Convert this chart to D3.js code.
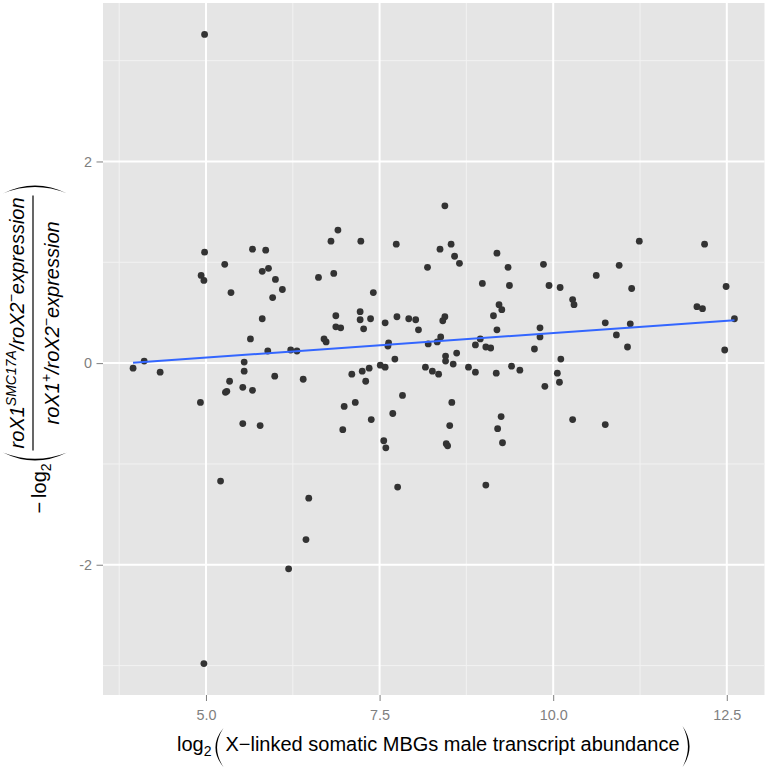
<!DOCTYPE html>
<html><head><meta charset="utf-8">
<script src="https://cdn.jsdelivr.net/npm/d3@7"></script>
<style>body{margin:0;background:#fff}</style>
</head><body>
<svg id="chart" width="768" height="768"></svg>
<script>
// log2 male transcript abundance (x) and -log2 expression ratio (y)
const abundance = [4.98,4.98,5.27,5.67,5.86,4.93,4.97,5.81,5.90,6.00,6.10,5.36,5.96,6.62,5.81,5.64,6.22,6.31,5.89,
  8.44,6.90,6.80,7.23,7.74,8.37,8.53,8.58,8.65,8.19,9.19,9.35,6.84,7.41,8.98,9.37,6.87,7.22,7.22,7.37,7.27,6.87,6.94,
  7.58,7.75,7.92,8.02,8.06,8.44,8.41,8.38,9.22,9.26,9.14,9.19,6.70,6.73,7.63,7.62,8.20,8.33,8.95,8.88,9.03,9.10,
  11.24,12.18,9.86,10.95,10.62,9.94,10.10,11.13,12.49,10.28,10.30,12.07,12.15,12.61,10.75,11.11,9.81,9.81,10.91,9.73,11.07,12.47,
  10.11,9.40,9.52,10.06,10.09,9.88,9.25,9.27,10.28,10.75,
  7.72,7.51,7.58,7.35,7.25,7.10,7.30,8.45,8.45,8.61,8.56,8.16,8.26,8.35,8.78,8.88,9.18,6.40,7.83,7.15,6.99,8.54,9.20,
  7.69,7.38,6.97,8.51,7.56,7.59,8.46,8.48,7.76,9.03,6.48,6.44,
  4.11,3.95,4.34,5.55,5.55,5.34,5.28,5.30,5.53,5.67,5.99,4.92,5.53,5.78,5.21,6.19,4.97];
const logRatio = [3.26,1.10,0.98,1.13,1.12,0.87,0.82,0.91,0.94,0.83,0.73,0.70,0.65,0.85,0.44,0.24,0.13,0.12,0.12,
  1.56,1.32,1.21,1.21,1.18,1.13,1.18,1.06,0.99,0.95,1.09,0.95,0.89,0.70,0.79,0.77,0.47,0.51,0.43,0.44,0.34,0.36,0.35,
  0.40,0.46,0.44,0.43,0.33,0.46,0.42,0.26,0.58,0.53,0.47,0.33,0.24,0.21,0.20,0.17,0.19,0.21,0.24,0.18,0.16,0.15,
  1.21,1.18,0.98,0.97,0.87,0.77,0.75,0.74,0.76,0.63,0.58,0.56,0.54,0.44,0.40,0.39,0.35,0.26,0.28,0.14,0.16,0.13,
  0.04,-0.03,-0.07,-0.10,-0.19,-0.23,-0.53,-0.79,-0.56,-0.61,
  0.04,-0.02,-0.04,-0.05,-0.08,-0.11,-0.18,0.07,0.02,0.10,-0.01,-0.04,-0.08,-0.11,-0.04,-0.09,-0.10,-0.16,-0.32,-0.39,-0.43,-0.39,-0.65,
  -0.50,-0.56,-0.66,-0.62,-0.77,-0.84,-0.80,-0.82,-1.23,-1.21,-1.34,-1.75,
  0.02,-0.05,-0.09,0.01,-0.08,-0.18,-0.29,-0.28,-0.24,-0.27,-0.13,-0.39,-0.60,-0.62,-1.17,-2.04,-2.98];
const xTicks = [5, 7.5, 10, 12.5];
const xTickLabels = ["5.0", "7.5", "10.0", "12.5"];
const xMinor = [3.75, 6.25, 8.75, 11.25];
const yTicks = [-2, 0, 2];
const yTickLabels = ["-2", "0", "2"];
const yMinor = [-3, -1, 1, 3];

const FONT = "'Liberation Sans', Arial, Helvetica, sans-serif";
const svg = d3.select("#chart").style("font-family", FONT);
const P = {left: 103, right: 764.5, top: 3, bottom: 695};

const xe = d3.extent(abundance), ye = d3.extent(logRatio);
const xp = (xe[1] - xe[0]) * 0.05, yp = (ye[1] - ye[0]) * 0.05;
const x = d3.scaleLinear().domain([xe[0] - xp, xe[1] + xp]).range([P.left, P.right]);
const y = d3.scaleLinear().domain([ye[0] - yp, ye[1] + yp]).range([P.bottom, P.top]);

// panel
svg.append("rect").attr("x", P.left).attr("y", P.top)
  .attr("width", P.right - P.left).attr("height", P.bottom - P.top).attr("fill", "#E5E5E5");
const grid = svg.append("g");
grid.selectAll(".vmin").data(xMinor).join("line")
  .attr("x1", d => x(d)).attr("x2", d => x(d)).attr("y1", P.top).attr("y2", P.bottom)
  .attr("stroke", "#F2F2F2").attr("stroke-width", 1);
grid.selectAll(".hmin").data(yMinor).join("line")
  .attr("y1", d => y(d)).attr("y2", d => y(d)).attr("x1", P.left).attr("x2", P.right)
  .attr("stroke", "#F2F2F2").attr("stroke-width", 1);
grid.selectAll(".vmaj").data(xTicks).join("line")
  .attr("x1", d => x(d)).attr("x2", d => x(d)).attr("y1", P.top).attr("y2", P.bottom)
  .attr("stroke", "#FFFFFF").attr("stroke-width", 2);
grid.selectAll(".hmaj").data(yTicks).join("line")
  .attr("y1", d => y(d)).attr("y2", d => y(d)).attr("x1", P.left).attr("x2", P.right)
  .attr("stroke", "#FFFFFF").attr("stroke-width", 2);

// points
const pts = abundance.map((v, i) => [v, logRatio[i]]);
svg.append("g").selectAll("circle").data(pts).join("circle")
  .attr("cx", d => x(d[0])).attr("cy", d => y(d[1])).attr("r", 3.4).attr("fill", "#333333");

// linear fit
const mx = d3.mean(abundance), my = d3.mean(logRatio);
const slope = d3.sum(pts, d => (d[0] - mx) * (d[1] - my)) / d3.sum(pts, d => (d[0] - mx) ** 2);
const icpt = my - slope * mx;
svg.append("path").datum(xe)
  .attr("d", d3.line().x(d => x(d)).y(d => y(icpt + slope * d)))
  .attr("stroke", "#3366FF").attr("stroke-width", 2).attr("fill", "none");

// axes
const xAxis = svg.append("g").attr("transform", `translate(0,${P.bottom})`)
  .call(d3.axisBottom(x).tickValues(xTicks).tickFormat((d, i) => xTickLabels[i]).tickSize(6).tickPadding(9));
const yAxis = svg.append("g").attr("transform", `translate(${P.left},0)`)
  .call(d3.axisLeft(y).tickValues(yTicks).tickFormat((d, i) => yTickLabels[i]).tickSize(6.5).tickPadding(4.5));
[xAxis, yAxis].forEach(a => {
  a.select(".domain").remove();
  a.selectAll("line").attr("stroke", "#7F7F7F");
  a.selectAll("text").attr("fill", "#7F7F7F").style("font-size", "14.4px").style("font-family", FONT);
});

function paren(g, xEnd, xBulge, top, bottom, thick) {
  const mid = (top + bottom) / 2, s = xBulge < xEnd ? 1 : -1;
  g.append("path").attr("fill", "#000")
    .attr("d", `M${xEnd},${top} Q${2 * xBulge - xEnd},${mid} ${xEnd},${bottom} Q${2 * (xBulge + s * thick) - xEnd},${mid} ${xEnd},${top}Z`);
}

// x title
{
  const g = svg.append("g").attr("font-size", 20);
  const base = 751;
  let cx = 0;
  const t1 = g.append("text").attr("x", cx).attr("y", base).text("log");
  cx += t1.node().getComputedTextLength();
  const t2 = g.append("text").attr("x", cx).attr("y", base + 5).attr("font-size", 14).text("2");
  cx += t2.node().getComputedTextLength() + 4;
  paren(g, cx + 8, cx, 728, 767, 1.6);
  cx += 10;
  const t3 = g.append("text").attr("x", cx).attr("y", base).text("X\u2212linked somatic MBGs male transcript abundance");
  cx += t3.node().getComputedTextLength() + 3;
  paren(g, cx, cx + 7, 726, 767, 1.6);
  cx += 8;
  const mid = (P.left + P.right) / 2;
  g.attr("transform", `translate(${mid - cx / 2},0)`);
}

// y title (rotated)
{
  const outer = svg.append("g").attr("transform", `translate(33,${(P.top + P.bottom) / 2}) rotate(-90)`);
  const g = outer.append("g").attr("font-size", 20);
  let cx = 0;
  const m = g.append("text").attr("x", cx).attr("y", 13).text("\u2212");
  cx += m.node().getComputedTextLength() + 4;
  const l = g.append("text").attr("x", cx).attr("y", 13).text("log");
  cx += l.node().getComputedTextLength();
  const s2 = g.append("text").attr("x", cx).attr("y", 18).attr("font-size", 14).text("2");
  cx += s2.node().getComputedTextLength() + 3;
  paren(g, cx + 8, cx, -30, 34, 1.6);
  cx += 10;
  const num = g.append("text").attr("y", -9).attr("font-style", "italic").attr("text-anchor", "middle");
  num.append("tspan").text("roX1");
  num.append("tspan").attr("font-size", 14).attr("dy", -8).text("SMC17A");
  num.append("tspan").attr("dy", 8).text("/roX2");
  num.append("tspan").attr("font-size", 14).attr("dy", -8).text("\u2212");
  num.append("tspan").attr("dy", 8).text("expression");
  const den = g.append("text").attr("y", 26).attr("font-style", "italic").attr("text-anchor", "middle");
  den.append("tspan").text("roX1");
  den.append("tspan").attr("font-size", 14).attr("dy", -8).text("+");
  den.append("tspan").attr("dy", 8).text("/roX2");
  den.append("tspan").attr("font-size", 14).attr("dy", -8).text("\u2212");
  den.append("tspan").attr("dy", 8).text("expression");
  const fw = Math.max(num.node().getComputedTextLength(), den.node().getComputedTextLength()) + 4;
  num.attr("x", cx + fw / 2); den.attr("x", cx + fw / 2);
  g.append("line").attr("x1", cx).attr("x2", cx + fw).attr("y1", 0).attr("y2", 0)
    .attr("stroke", "#000").attr("stroke-width", 1.2);
  cx += fw + 2;
  paren(g, cx, cx + 8, -30, 34, 1.6);
  cx += 9;
  g.attr("transform", `translate(${-cx / 2},0)`);
}
</script>
</body></html>
